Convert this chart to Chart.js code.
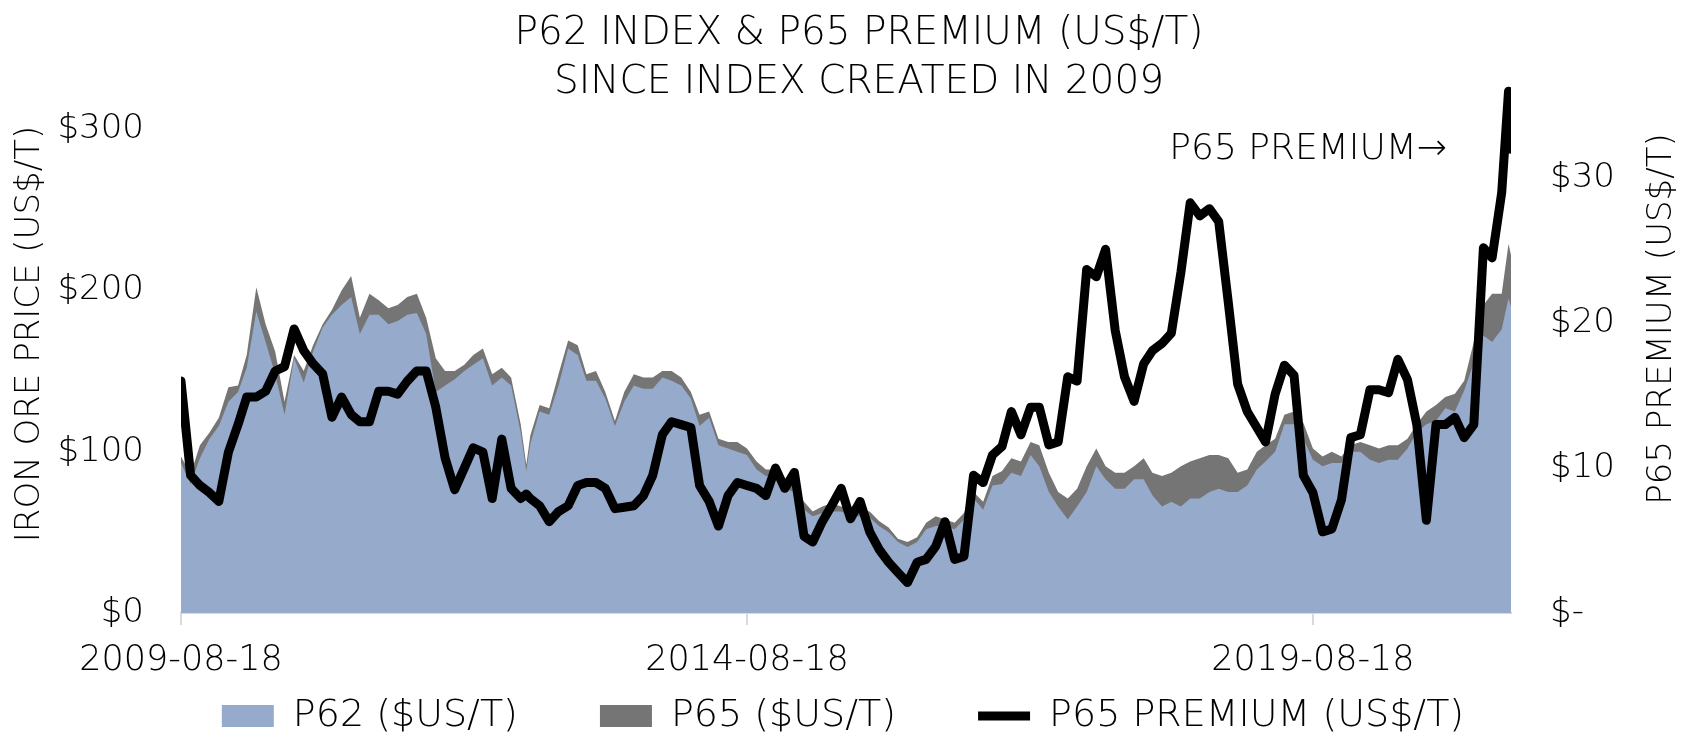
<html>

<head>
    <script src="https://cdn.jsdelivr.net/npm/chart.js"></script>
    <style>
        body { margin: 0; background: #ffffff; }
    </style>
</head>

<body>
    <canvas id="myChart" width="1686" height="732"></canvas>
</body>
<script>
    // monthly readings (18th of each month), plus a couple of extra days
    var dates = [
        '2009-08-18', '2009-09-18', '2009-10-18', '2009-11-18', '2009-12-18',
        '2010-01-18', '2010-02-18', '2010-03-18', '2010-04-18', '2010-05-18', '2010-06-18', '2010-07-18', '2010-08-18', '2010-09-18', '2010-10-18', '2010-11-18', '2010-12-18',
        '2011-01-18', '2011-02-18', '2011-03-18', '2011-04-18', '2011-05-18', '2011-06-18', '2011-07-18', '2011-08-18', '2011-09-18', '2011-10-18', '2011-11-18', '2011-12-18',
        '2012-01-18', '2012-02-18', '2012-03-18', '2012-04-18', '2012-05-18', '2012-06-18', '2012-07-18', '2012-08-18', '2012-09-05', '2012-09-18', '2012-10-18', '2012-11-18', '2012-12-18',
        '2013-01-18', '2013-02-18', '2013-03-18', '2013-04-18', '2013-05-18', '2013-06-18', '2013-07-18', '2013-08-18', '2013-09-18', '2013-10-18', '2013-11-18', '2013-12-18',
        '2014-01-18', '2014-02-18', '2014-03-18', '2014-04-18', '2014-05-18', '2014-06-18', '2014-07-18', '2014-08-18', '2014-09-18', '2014-10-18', '2014-11-18', '2014-12-18',
        '2015-01-18', '2015-02-18', '2015-03-18', '2015-04-18', '2015-05-18', '2015-06-18', '2015-07-18', '2015-08-18', '2015-09-18', '2015-10-18', '2015-11-18', '2015-12-18',
        '2016-01-18', '2016-02-18', '2016-03-18', '2016-04-18', '2016-05-18', '2016-06-18', '2016-07-18', '2016-08-18', '2016-09-18', '2016-10-18', '2016-11-18', '2016-12-18',
        '2017-01-18', '2017-02-18', '2017-03-18', '2017-04-18', '2017-05-18', '2017-06-18', '2017-07-18', '2017-08-18', '2017-09-18', '2017-10-18', '2017-11-18', '2017-12-18',
        '2018-01-18', '2018-02-18', '2018-03-18', '2018-04-18', '2018-05-18', '2018-06-18', '2018-07-18', '2018-08-18', '2018-09-18', '2018-10-18', '2018-11-18', '2018-12-18',
        '2019-01-18', '2019-02-18', '2019-03-18', '2019-04-18', '2019-05-18', '2019-06-18', '2019-07-18', '2019-08-18', '2019-09-18', '2019-10-18', '2019-11-18', '2019-12-18',
        '2020-01-18', '2020-02-18', '2020-03-18', '2020-04-18', '2020-05-18', '2020-06-18', '2020-07-18', '2020-08-18', '2020-09-18', '2020-10-18', '2020-11-18', '2020-12-18',
        '2021-01-18', '2021-02-18', '2021-03-18', '2021-04-18', '2021-05-10', '2021-05-18'
    ];

    var p62 = [
        93, 80, 96, 108, 116,
        131, 137, 152, 187, 168, 148, 123, 158, 143, 162, 177, 185,
        191, 196, 173, 185, 185, 179, 181, 185, 186, 173, 137, 141,
        145, 150, 154, 158, 141, 146, 141, 112, 88, 105, 125, 123, 141,
        164, 160, 144, 144, 133, 116, 131, 141, 139, 139, 146, 144,
        141, 133, 116, 121, 104, 102, 100, 98, 89, 85, 85, 77,
        75, 64, 60, 62, 63, 63, 60, 60, 59, 54, 50, 44,
        41, 44, 52, 54, 54, 52, 58, 71, 64, 79, 80, 87,
        85, 98, 91, 75, 66, 58, 66, 75, 91, 83, 77, 77,
        83, 83, 73, 66, 69, 66, 71, 71, 75, 77, 75, 75,
        79, 89, 94, 100, 117, 117, 108, 95, 91, 93, 93, 100,
        100, 95, 93, 95, 95, 102, 112, 117, 119, 127, 125, 138,
        155, 172, 168, 176, 195, 190
    ];

    var p65 = [
        97, 86, 104, 112, 121,
        140, 141, 160, 202, 179, 162, 131, 160, 150, 166, 179, 188,
        200, 209, 183, 198, 194, 189, 191, 196, 198, 183, 158, 150,
        150, 154, 160, 164, 148, 152, 146, 117, 92, 110, 129, 127, 148,
        169, 166, 148, 150, 137, 119, 137, 148, 146, 146, 150, 150,
        146, 137, 123, 125, 108, 106, 106, 102, 94, 89, 89, 81,
        79, 69, 63, 66, 68, 66, 64, 64, 63, 57, 53, 46,
        44, 47, 56, 60, 58, 56, 62, 75, 69, 85, 88, 96,
        94, 106, 104, 87, 75, 71, 77, 91, 102, 91, 87, 87,
        91, 96, 87, 85, 87, 91, 94, 96, 98, 98, 96, 87,
        89, 100, 104, 108, 123, 125, 118, 102, 97, 100, 97, 104,
        106, 104, 102, 104, 104, 108, 117, 125, 129, 134, 136, 144,
        168, 191, 198, 198, 229, 222
    ];

    var premium = [
        16, 9.5, 8.8, 8.3, 7.7,
        11.1, 13, 14.9, 14.9, 15.3, 16.7, 17, 19.6, 18.1, 17.2, 16.5, 13.5,
        14.9, 13.7, 13.2, 13.2, 15.3, 15.3, 15.1, 16, 16.7, 16.7, 14.2, 10.7,
        8.5, 10, 11.4, 11.1, 7.9, 12, 8.6, 7.9, 8.2, 7.9, 7.4, 6.3, 7,
        7.4, 8.8, 9, 9, 8.6, 7.2, 7.3, 7.4, 8.1, 9.5, 12.3, 13.2,
        13, 12.8, 8.8, 7.7, 6, 8.1, 9, 8.8, 8.6, 8.1, 10, 8.6,
        9.7, 5.3, 4.9, 6.3, 7.4, 8.6, 6.5, 7.7, 5.6, 4.4, 3.5, 2.8,
        2.1, 3.5, 3.7, 4.6, 6.3, 3.7, 3.9, 9.5, 9, 10.9, 11.5, 13.9,
        12.3, 14.2, 14.2, 11.6, 11.8, 16.3, 16, 23.7, 23.2, 25.1, 19.5, 16.3,
        14.6, 17.2, 18.1, 18.6, 19.3, 23.5, 28.3, 27.4, 27.9, 27, 21.4, 15.8,
        13.9, 12.8, 11.8, 15.1, 17.1, 16.4, 9.5, 8.3, 5.6, 5.8, 7.8, 12.1,
        12.3, 15.4, 15.4, 15.2, 17.5, 16.1, 13, 6.4, 13, 13, 13.5, 12.1,
        13, 25.2, 24.5, 29, 36, 32
    ];

    var tickLabels = ['2009-08-18', '2014-08-18', '2019-08-18'];
    var leftTicks = [0, 100, 200, 300];
    var rightTicks = [0, 10, 20, 30];
    var titleLines = ['P62 INDEX & P65 PREMIUM (US$/T)', 'SINCE INDEX CREATED IN 2009'];
    var noteText = 'P65 PREMIUM\u2192';
    var rightTitle = 'P65 PREMIUM (US$/T)';

    var fontName = '"DejaVu Sans"';
    var fontWeight = 200;
    var start = Date.parse(dates[0]);
    function dayOf(d) {
        return (Date.parse(d) - start) / 86400000;
    }
    function points(values) {
        return values.map(function (v, i) { return { x: dayOf(dates[i]), y: v }; });
    }
    function font(size) {
        return { family: fontName, size: size, weight: fontWeight };
    }

    // title, the right axis title (reads bottom to top) and the arrow note
    var textPlugin = {
        id: 'texts',
        afterLayout: function (chart) {
            // x axis box is kept thin so the legend sits close; let its labels show below it
            chart.scales.x.bottom = chart.height;
        },
        afterDraw: function (chart) {
            var ctx = chart.ctx;
            var area = chart.chartArea;
            ctx.save();
            ctx.fillStyle = '#000000';
            ctx.textBaseline = 'middle';
            ctx.font = fontWeight + ' 39px ' + fontName;
            ctx.textAlign = 'center';
            var cx = (area.left + area.right) / 2 + 13;
            ctx.fillText(titleLines[0], cx, 34);
            ctx.fillText(titleLines[1], cx, 83);
            ctx.font = fontWeight + ' 36px ' + fontName;
            ctx.textAlign = 'right';
            ctx.fillText(noteText, area.right - 64, 150);
            ctx.translate(area.right + 151, (area.top + area.bottom) / 2 - 15);
            ctx.rotate(-Math.PI / 2);
            ctx.textAlign = 'center';
            ctx.font = fontWeight + ' 34px ' + fontName;
            ctx.fillText(rightTitle, 0, 0);
            ctx.restore();
        }
    };

    var ctx = document.getElementById('myChart').getContext('2d');
    var chart = new Chart(ctx, {
        type: 'line',
        data: {
            datasets: [
                {
                    label: 'P62 ($US/T)',
                    data: points(p62),
                    yAxisID: 'y',
                    backgroundColor: '#96aacb',
                    borderColor: '#96aacb',
                    borderWidth: 0,
                    fill: 'origin',
                    pointStyle: 'rect',
                    order: 1
                },
                {
                    label: 'P65 ($US/T)',
                    data: points(p65),
                    yAxisID: 'y',
                    backgroundColor: '#757575',
                    borderColor: '#757575',
                    borderWidth: 0,
                    fill: 'origin',
                    pointStyle: 'rect',
                    order: 2
                },
                {
                    label: 'P65 PREMIUM (US$/T)',
                    data: points(premium),
                    yAxisID: 'y1',
                    backgroundColor: '#000000',
                    borderColor: '#000000',
                    borderWidth: 9,
                    borderCapStyle: 'round',
                    borderJoinStyle: 'round',
                    fill: false,
                    pointStyle: 'line',
                    order: 0
                }
            ]
        },
        options: {
            responsive: false,
            animation: false,
            devicePixelRatio: 1,
            layout: { padding: { top: 55, left: 0, right: 0, bottom: 0 } },
            elements: {
                point: { radius: 0, hoverRadius: 0 },
                line: { tension: 0 }
            },
            font: { family: fontName },
            plugins: {
                tooltip: { enabled: false },
                title: { display: false },
                legend: {
                    position: 'bottom',
                    maxHeight: 117,
                    labels: {
                        usePointStyle: true,
                        pointStyleWidth: 52,
                        boxHeight: 22,
                        padding: 82,
                        color: '#000000',
                        font: font(38),
                        sort: function (a, b) { return a.datasetIndex - b.datasetIndex; }
                    }
                }
            },
            scales: {
                x: {
                    type: 'linear',
                    min: 0,
                    max: dayOf(dates[dates.length - 1]),
                    afterBuildTicks: function (axis) {
                        axis.ticks = tickLabels.map(function (t) { return { value: dayOf(t) }; });
                    },
                    afterFit: function (axis) { axis.height = 2; },
                    ticks: {
                        autoSkip: false,
                        maxRotation: 0,
                        padding: 15,
                        color: '#000000',
                        font: font(35),
                        callback: function (value) {
                            for (var i = 0; i < tickLabels.length; i++) {
                                if (dayOf(tickLabels[i]) === value) return tickLabels[i];
                            }
                            return '';
                        }
                    },
                    grid: {
                        drawOnChartArea: false,
                        drawTicks: true,
                        tickLength: 12,
                        color: '#d9d9d9',
                        lineWidth: 2
                    },
                    border: { display: true, color: '#d9d9d9', width: 2 }
                },
                y: {
                    position: 'left',
                    min: 0,
                    max: 346,
                    afterBuildTicks: function (axis) {
                        axis.ticks = leftTicks.map(function (v) { return { value: v }; });
                    },
                    afterFit: function (axis) { axis.width = 181; },
                    ticks: {
                        padding: 29,
                        color: '#000000',
                        font: font(34),
                        callback: function (value) { return '$' + value; }
                    },
                    grid: { display: false },
                    border: { display: false },
                    title: {
                        display: true,
                        text: 'IRON ORE PRICE (US$/T)',
                        color: '#000000',
                        font: font(34),
                        padding: { top: 10, bottom: 0 }
                    }
                },
                y1: {
                    position: 'right',
                    min: 0,
                    max: 38.5,
                    afterBuildTicks: function (axis) {
                        axis.ticks = rightTicks.map(function (v) { return { value: v }; });
                    },
                    afterFit: function (axis) { axis.width = 175; },
                    ticks: {
                        padding: 31,
                        color: '#000000',
                        font: font(34),
                        callback: function (value) { return value === 0 ? '$-' : '$' + value; }
                    },
                    grid: { display: false },
                    border: { display: false }
                }
            }
        },
        plugins: [textPlugin]
    });
</script>

</html>
